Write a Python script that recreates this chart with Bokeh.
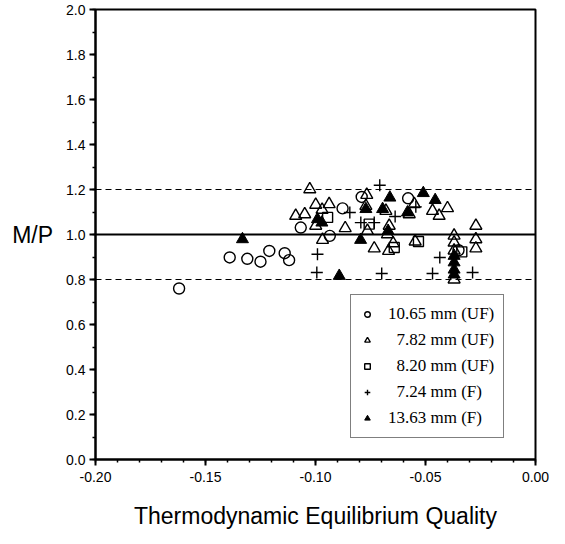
from bokeh.plotting import figure
from bokeh.models import Span, Range1d, FixedTicker, Legend, LegendItem
from bokeh.embed import file_html
from bokeh.resources import INLINE

# --- data ---
s1_label = "10.65 mm (UF)"
s1_x = [-0.162, -0.139, -0.131, -0.125, -0.121, -0.114, -0.112, -0.1067, -0.0935, -0.0877, -0.079, -0.0579, -0.035]
s1_y = [0.76, 0.898, 0.892, 0.879, 0.927, 0.917, 0.886, 1.031, 0.994, 1.116, 1.167, 1.161, 0.93]

s2_label = "\u20077.82 mm (UF)"
s2_x = [-0.109, -0.1049, -0.1026, -0.0999, -0.0999, -0.0968, -0.097, -0.0938, -0.0865, -0.0771, -0.0767,
        -0.0764, -0.0733, -0.068, -0.0665, -0.0673, -0.0668, -0.0647, -0.0574, -0.0551, -0.0547, -0.0468,
        -0.0438, -0.040, -0.037, -0.037, -0.037, -0.037, -0.0271, -0.0271, -0.0271]
s2_y = [1.083, 1.090, 1.201, 1.132, 1.039, 0.976, 1.110, 1.135, 1.028, 1.127, 1.176,
        1.016, 0.938, 1.105, 1.039, 1.001, 0.927, 0.961, 1.090, 1.135, 0.969, 1.105,
        1.083, 1.117, 0.995, 0.964, 0.929, 0.800, 1.039, 0.979, 0.938]

s3_label = "\u20078.20 mm (UF)"
s3_x = [-0.0945, -0.0756, -0.0642, -0.0532, -0.0335]
s3_y = [1.076, 1.046, 0.942, 0.969, 0.923]

s4_label = "\u20077.24 mm (F)"
s4_x = [-0.0708, -0.0844, -0.0544, -0.0794, -0.0733, -0.0638, -0.0991, -0.0994, -0.0699, -0.0468, -0.0435, -0.0286]
s4_y = [1.219, 1.098, 1.123, 1.053, 1.053, 1.080, 0.912, 0.831, 0.827, 0.827, 0.898, 0.831]

s5_label = "13.63 mm (F)"
s5_x = [-0.1332, -0.0892, -0.0991, -0.0971, -0.0795, -0.0771, -0.0695, -0.0662, -0.067, -0.0582, -0.051,
        -0.0456, -0.037, -0.037, -0.037, -0.037]
s5_y = [0.979, 0.816, 1.068, 1.053, 0.976, 1.113, 1.113, 1.164, 1.016, 1.098, 1.184,
        1.153, 0.905, 0.876, 0.844, 0.822]

ref_lines = [1.2, 1.0, 0.8]
x_ticks = [-0.20, -0.15, -0.10, -0.05, 0.00]
y_ticks = [0.0, 0.2, 0.4, 0.6, 0.8, 1.0, 1.2, 1.4, 1.6, 1.8, 2.0]

p = figure(frame_width=440, frame_height=450, output_backend="svg", toolbar_location=None,
           x_range=Range1d(-0.2, 0.0), y_range=Range1d(0.0, 2.0),
           min_border_left=95, min_border_right=14, min_border_top=9, min_border_bottom=69)
p.background_fill_color = "white"
p.border_fill_color = "white"
p.grid.visible = False
p.outline_line_color = "black"
p.outline_line_width = 2

# reference lines
p.add_layout(Span(location=ref_lines[0], dimension="width", line_color="black", line_width=1.2, line_dash="6 4"))
p.add_layout(Span(location=ref_lines[1], dimension="width", line_color="black", line_width=2.2))
p.add_layout(Span(location=ref_lines[2], dimension="width", line_color="black", line_width=1.2, line_dash="6 4"))

sz = 11
r1 = p.scatter(s1_x, s1_y, marker="circle", size=sz, fill_color=None, line_color="black", line_width=1.4)
r2 = p.scatter(s2_x, s2_y, marker="triangle", size=sz + 1, fill_color=None, line_color="black", line_width=1.4)
r3 = p.scatter(s3_x, s3_y, marker="square", size=sz - 1, fill_color=None, line_color="black", line_width=1.4)
r4 = p.scatter(s4_x, s4_y, marker="cross", size=sz + 1, line_color="black", line_width=1.4)
r5 = p.scatter(s5_x, s5_y, marker="triangle", size=sz + 1, fill_color="black", line_color="black", line_width=1)

legend = Legend(items=[LegendItem(label=s1_label, renderers=[r1]),
                       LegendItem(label=s2_label, renderers=[r2]),
                       LegendItem(label=s3_label, renderers=[r3]),
                       LegendItem(label=s4_label, renderers=[r4]),
                       LegendItem(label=s5_label, renderers=[r5])],
                location=(255, 21))
legend.border_line_color = "black"
legend.border_line_width = 1.2
legend.background_fill_alpha = 1.0
legend.label_text_font = "Liberation Serif"
legend.label_text_font_size = "17px"
legend.label_text_color = "black"
legend.glyph_width = 14
legend.glyph_height = 20
legend.label_standoff = 14
legend.spacing = 6
legend.padding = 9
legend.margin = 0
p.add_layout(legend, "center")

for ax in (p.xaxis[0], p.yaxis[0]):
    ax.axis_line_width = 2
    ax.axis_line_color = "black"
    ax.major_tick_line_color = "black"
    ax.major_tick_line_width = 2
    ax.minor_tick_line_color = "black"
    ax.minor_tick_line_width = 1.5
    ax.major_tick_out = 6
    ax.major_tick_in = 0
    ax.minor_tick_out = 3
    ax.minor_tick_in = 0
    ax.major_label_text_font = "Liberation Sans"
    ax.major_label_text_font_size = "14px"
    ax.major_label_text_color = "black"
    ax.axis_label_text_font = "Liberation Sans"
    ax.axis_label_text_font_style = "normal"
    ax.axis_label_text_color = "black"
    ax.axis_label_text_font_size = "23px"

p.xaxis.ticker = FixedTicker(ticks=x_ticks, minor_ticks=[round(-0.2 + 0.01 * i, 2) for i in range(21)])
p.yaxis.ticker = FixedTicker(ticks=y_ticks, minor_ticks=[round(0.1 * i, 1) for i in range(21)])
p.xaxis.major_label_overrides = {t: f"{t:.2f}" for t in x_ticks}
p.yaxis.major_label_overrides = {t: f"{t:.1f}" for t in y_ticks}
p.xaxis.major_label_standoff = 6
p.yaxis.major_label_standoff = 4
p.xaxis.axis_label = "Thermodynamic Equilibrium Quality"
p.yaxis.axis_label = "M/P"
p.yaxis.axis_label_orientation = "horizontal"
p.xaxis.axis_label_standoff = 18
p.yaxis.axis_label_standoff = 10

open("out.html", "w").write(file_html(p, INLINE))
